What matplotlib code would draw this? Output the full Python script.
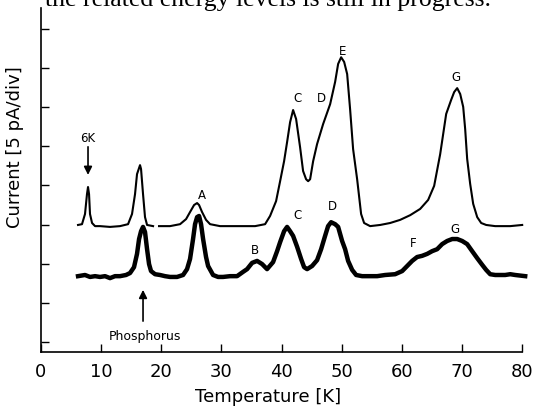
import numpy as np
import matplotlib
matplotlib.use("Agg")
import matplotlib.pyplot as plt

# temperature [K] and current [div]
upper_T = [6.16, 6.82, 7.32, 7.65, 7.82, 7.99, 8.15, 8.49, 8.99, 9.82, 11.48, 13.14,
           14.48, 15.14, 15.64, 15.97, 16.47, 16.64, 16.97, 17.30, 17.64, 18.64, np.nan,
           19.63, 21.46, 23.13, 24.13, 24.79, 25.46, 25.96, 26.29, 26.79, 27.45, 28.12,
           29.78, 33.11, 35.61, 37.27, 38.10, 39.10, 39.77, 40.43, 40.93, 41.43, 41.93,
           42.43, 43.09, 43.59, 44.09, 44.43, 44.76, 45.26, 45.92, 46.92, 48.09, 48.92,
           49.42, 49.92, 50.42, 50.92, 51.41, 51.91, 52.58, 53.24, 53.74, 54.74, 56.41,
           58.07, 59.73, 61.40, 63.06, 64.39, 65.39, 66.39, 67.39, 68.22, 68.72, 69.22,
           69.72, 70.22, 70.55, 70.88, 71.38, 71.88, 72.55, 73.21, 74.04, 75.54, 78.04,
           80.03]
upper_I = [3.25, 3.27, 3.53, 4.04, 4.22, 4.04, 3.53, 3.30, 3.22, 3.22, 3.20, 3.22,
           3.27, 3.53, 4.04, 4.55, 4.78, 4.68, 4.04, 3.45, 3.25, 3.22, np.nan,
           3.22, 3.22, 3.27, 3.40, 3.58, 3.76, 3.81, 3.76, 3.58, 3.38, 3.27,
           3.22, 3.22, 3.22, 3.27, 3.48, 3.86, 4.37, 4.88, 5.37, 5.88, 6.19,
           5.96, 5.24, 4.63, 4.42, 4.37, 4.42, 4.88, 5.32, 5.83, 6.34, 6.91,
           7.37, 7.54, 7.42, 7.11, 6.21, 5.19, 4.42, 3.53, 3.30, 3.22, 3.25,
           3.30, 3.38, 3.50, 3.66, 3.89, 4.25, 5.06, 6.09, 6.45, 6.65, 6.75,
           6.60, 6.27, 5.70, 4.94, 4.30, 3.79, 3.45, 3.30, 3.25, 3.22, 3.22,
           3.25]

lower_T = [6.16, 7.32, 8.15, 8.99, 9.82, 10.65, 11.48, 12.31, 13.14, 14.14, 14.81,
           15.47, 15.97, 16.31, 16.64, 16.97, 17.30, 17.64, 17.97, 18.30, 18.97, 19.80,
           20.63, 21.46, 22.63, 23.63, 24.29, 24.79, 25.29, 25.62, 25.96, 26.29, 26.62,
           26.96, 27.45, 27.79, 28.62, 29.45, 30.28, 31.45, 32.61, 33.61, 34.28, 35.11,
           35.94, 36.77, 37.60, 38.60, 39.27, 39.77, 40.43, 40.93, 41.43, 41.93, 42.60,
           43.26, 43.76, 44.26, 45.09, 45.92, 46.59, 47.25, 47.75, 48.25, 48.92, 49.42,
           50.08, 50.58, 51.08, 51.75, 52.41, 53.41, 54.74, 55.91, 57.24, 58.90, 60.07,
           60.90, 61.73, 62.56, 63.39, 64.23, 65.06, 65.89, 66.72, 67.55, 68.39, 69.22,
           70.05, 70.88, 71.71, 72.55, 73.38, 74.04, 74.71, 75.54, 77.20, 78.04, 78.87,
           80.53]
lower_I = [1.94, 1.97, 1.92, 1.94, 1.92, 1.94, 1.89, 1.94, 1.94, 1.97, 2.02,
           2.17, 2.51, 2.89, 3.09, 3.20, 3.07, 2.63, 2.25, 2.07, 1.99, 1.97,
           1.94, 1.92, 1.92, 1.97, 2.12, 2.38, 2.89, 3.27, 3.45, 3.48, 3.27,
           2.89, 2.43, 2.20, 1.97, 1.92, 1.92, 1.94, 1.94, 2.05, 2.12, 2.28,
           2.33, 2.25, 2.12, 2.30, 2.58, 2.81, 3.09, 3.20, 3.09, 2.97, 2.69,
           2.38, 2.17, 2.12, 2.20, 2.35, 2.63, 2.97, 3.22, 3.32, 3.27, 3.20,
           2.84, 2.63, 2.33, 2.10, 1.97, 1.94, 1.94, 1.94, 1.97, 1.99, 2.07,
           2.20, 2.33, 2.43, 2.46, 2.51, 2.58, 2.63, 2.76, 2.84, 2.89, 2.89,
           2.84, 2.76, 2.58, 2.40, 2.23, 2.10, 1.99, 1.97, 1.97, 1.99, 1.97,
           1.94]

peak_labels = ["A", "B", "C", "D", "E", "G", "C", "D", "F", "G"]
peak_T = [26.8, 35.6, 42.6, 46.7, 50.1, 69.0, 42.6, 48.4, 61.9, 68.9]
peak_I = [4.04, 2.63, 6.50, 6.52, 7.70, 7.06, 3.53, 3.76, 2.79, 3.17]

x_ticks = [0, 10, 20, 30, 40, 50, 60, 70, 80]

fig = plt.figure(figsize=(5.39, 4.10), dpi=100)
ax = fig.add_axes([41 / 539, 57 / 410, 481 / 539, 344 / 410])

ax.plot(upper_T, upper_I, color="black", lw=1.5, clip_on=False)
ax.plot(lower_T, lower_I, color="black", lw=3.2, clip_on=False, solid_joinstyle="round")

for lab, t, i in zip(peak_labels, peak_T, peak_I):
    ax.text(t, i, lab, ha="center", va="center", fontsize=8.5)

ax.annotate("6K", xy=(7.82, 4.53), xytext=(7.82, 5.32), ha="center", va="bottom",
            fontsize=8.5, arrowprops=dict(arrowstyle="-|>", color="black", lw=1.2,
                                          shrinkA=0, shrinkB=0, mutation_scale=12))
ax.annotate("", xy=(16.97, 1.59), xytext=(16.97, 0.79),
            arrowprops=dict(arrowstyle="-|>", color="black", lw=1.2,
                            shrinkA=0, shrinkB=0, mutation_scale=12))
ax.text(17.3, 0.41, "Phosphorus", ha="center", va="center", fontsize=9)

ax.set_xlim(0, 80)
ax.set_ylim(0, 8.8)
ax.set_xticks(x_ticks)
ax.set_yticks([0.26 + k for k in range(9)])
ax.set_yticklabels([])
ax.tick_params(axis="both", direction="in", length=6, width=1, labelsize=13, pad=7)
for s in ["top", "right"]:
    ax.spines[s].set_visible(False)
for s in ["left", "bottom"]:
    ax.spines[s].set_linewidth(1.2)

fig.text(268 / 539, 1 - 397 / 410, "Temperature [K]", ha="center", va="center", fontsize=13)
fig.text(15 / 539, 1 - 147 / 410, "Current [5 pA/div]", ha="center", va="center",
         rotation=90, fontsize=13)
# tail of the page text above the figure, cut by the top edge as in the scan
fig.text(45 / 539, 1 - 6 / 410, "the related energy levels is still in progress.",
         ha="left", va="baseline", fontsize=18.5, family="Liberation Serif")

fig.savefig("out.png", dpi=100)
